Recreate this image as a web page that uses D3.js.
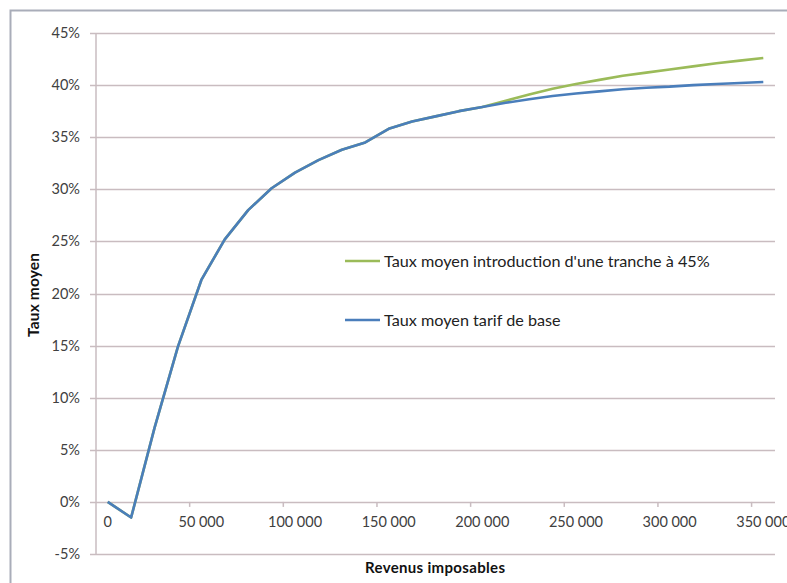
<!DOCTYPE html>
<html>
<head>
<meta charset="utf-8">
<script src="https://cdn.jsdelivr.net/npm/d3@7"></script>
<style>
  html, body { margin: 0; padding: 0; background: #fff; }
  svg { display: block; font-family: Lato, "Open Sans", sans-serif; }
</style>
</head>
<body>
<svg id="chart" width="787" height="583"></svg>
<script>
// ---- data ----
const revenus = [0, 12500, 25000, 37500, 50000, 62500, 75000, 87500, 100000, 112500,
  125000, 137500, 150000, 162500, 175000, 187500, 200000, 212500, 225000, 237500,
  250000, 262500, 275000, 287500, 300000, 312500, 325000, 337500, 350000];
const tauxBase = [0, -1.5, 7.1, 14.9, 21.3, 25.2, 28.0, 30.1, 31.6, 32.8,
  33.8, 34.5, 35.8, 36.5, 37.0, 37.5, 37.9, 38.3, 38.65, 38.95,
  39.2, 39.4, 39.6, 39.75, 39.85, 40.0, 40.1, 40.2, 40.3];
const tauxTranche45 = [0, -1.5, 7.1, 14.9, 21.3, 25.2, 28.0, 30.1, 31.6, 32.8,
  33.8, 34.5, 35.8, 36.5, 37.0, 37.5, 37.9, 38.5, 39.1, 39.65,
  40.1, 40.5, 40.9, 41.2, 41.5, 41.8, 42.1, 42.35, 42.6];
const yTicks = [-5, 0, 5, 10, 15, 20, 25, 30, 35, 40, 45];
const xTicks = [0, 50000, 100000, 150000, 200000, 250000, 300000, 350000];
const seriesNames = ["Taux moyen introduction d'une tranche à 45%", "Taux moyen tarif de base"];
const colors = ["#9bbb59", "#4a7ebb"];

// ---- layout ----
const svg = d3.select("#chart");
const step = 12500;
const x = d3.scaleLinear().domain([-step / 2, 350000 + step / 2]).range([96, 775]);
const y = d3.scaleLinear().domain([-5, 45]).range([554, 33]);
const gridColor = "#c9bcc0";

// frame
svg.append("rect").attr("x", 10.5).attr("y", 10.5).attr("width", 800).attr("height", 600)
  .attr("fill", "none").attr("stroke", "#a9adb9").attr("stroke-width", 2);

// horizontal gridlines + y labels
const gY = svg.append("g");
gY.selectAll("line").data(yTicks).join("line")
  .attr("x1", 90).attr("x2", x.range()[1])
  .attr("y1", d => Math.round(y(d)) + 0.5).attr("y2", d => Math.round(y(d)) + 0.5)
  .attr("stroke", gridColor).attr("stroke-width", 1.5);
gY.selectAll("text").data(yTicks).join("text")
  .attr("x", 80).attr("y", d => y(d)).attr("dy", "0.35em")
  .attr("text-anchor", "end").attr("font-size", 14.5).attr("fill", "#404040")
  .text(d => d + "%");

// vertical axis line
svg.append("line").attr("x1", 96).attr("x2", 96).attr("y1", y(45)).attr("y2", y(-5))
  .attr("stroke", gridColor).attr("stroke-width", 1.5);

// x ticks (between categories) and labels
const y0 = y(0);
svg.append("g").selectAll("line").data(xTicks.slice(1)).join("line")
  .attr("x1", d => x(d - step / 2)).attr("x2", d => x(d - step / 2))
  .attr("y1", y0).attr("y2", y0 + 5)
  .attr("stroke", gridColor).attr("stroke-width", 1.5);
const fmt = d => d === 0 ? "0" : d3.format(",")(d).replace(/,/g, "\u202F");
svg.append("g").selectAll("text").data(xTicks).join("text")
  .attr("x", d => x(d)).attr("y", y0 + 25)
  .attr("text-anchor", "middle").attr("font-size", 14.5).attr("fill", "#404040")
  .text(fmt);

// lines
const line = d3.line().x((d, i) => x(revenus[i])).y(d => y(d));
[tauxTranche45, tauxBase].forEach((s, k) => {
  svg.append("path").datum(s).attr("d", line)
    .attr("fill", "none").attr("stroke", colors[k]).attr("stroke-width", 2.6)
    .attr("stroke-linejoin", "round");
});

// legend
const legY = [261, 320];
seriesNames.forEach((n, k) => {
  svg.append("line").attr("x1", 345).attr("x2", 380).attr("y1", legY[k]).attr("y2", legY[k])
    .attr("stroke", colors[k]).attr("stroke-width", 2.6);
  svg.append("text").attr("x", 384).attr("y", legY[k]).attr("dy", "0.35em")
    .attr("font-size", 16.2).attr("fill", "#222").text(n);
});

// axis titles
svg.append("text").attr("transform", "translate(39,295) rotate(-90)")
  .attr("text-anchor", "middle").attr("font-size", 15.5).attr("font-weight", "bold")
  .attr("fill", "#111").attr("textLength", 84).attr("lengthAdjust", "spacing")
  .text("Taux moyen");
svg.append("text").attr("x", 435).attr("y", 573)
  .attr("text-anchor", "middle").attr("font-size", 15).attr("font-weight", "bold")
  .attr("fill", "#111").attr("textLength", 140).attr("lengthAdjust", "spacing")
  .text("Revenus imposables");
</script>
</body>
</html>
